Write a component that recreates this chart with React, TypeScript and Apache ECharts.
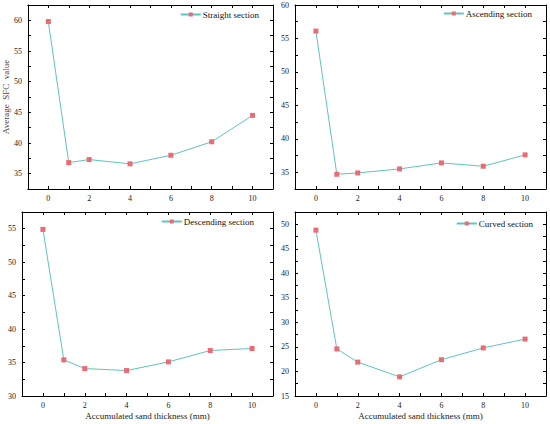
import React, { useEffect, useRef } from "react";
import * as echarts from "echarts";

const thickness = [0, 1, 2, 4, 6, 8, 10];
const straightSection = [59.8, 36.8, 37.3, 36.6, 38.0, 40.2, 44.5];
const ascendingSection = [56.1, 34.7, 34.9, 35.5, 36.4, 35.9, 37.6];
const descendingSection = [54.9, 35.4, 34.1, 33.8, 35.1, 36.8, 37.1];
const curvedSection = [48.8, 24.6, 21.9, 18.9, 22.4, 24.8, 26.6];

const seriesNames = ["Straight section", "Ascending section", "Descending section", "Curved section"];
const seriesValues = [straightSection, ascendingSection, descendingSection, curvedSection];
const yRanges = [
  [32.5, 62.5],
  [32.5, 60],
  [30, 57.5],
  [15, 52.5],
];
const xRange = [-1, 11];
const yAxisTitle = "Average  SFC  value";
const xAxisTitle = "Accumulated sand thickness (mm)";

const FONT = "Liberation Serif, Times New Roman, serif";

export default function App() {
  const ref = useRef<HTMLDivElement>(null);
  useEffect(() => {
    document.body.style.margin = "0";
    const chart = echarts.init(ref.current!, null, { renderer: "svg" });
    const grids = [
      { left: 22, top: 5, width: 251, height: 184 },
      { left: 295, top: 5, width: 251, height: 184 },
      { left: 22, top: 212, width: 251, height: 184 },
      { left: 295, top: 212, width: 251, height: 184 },
    ];
    const legendPos = [
      { right: 291, top: 10 },
      { right: 18, top: 9 },
      { right: 296, top: 217 },
      { right: 17, top: 219 },
    ];
    const xAxes: any[] = [];
    const yAxes: any[] = [];
    grids.forEach((g, i) => {
      const baseX = {
        type: "value",
        gridIndex: i,
        min: xRange[0],
        max: xRange[1],
        interval: 1,
        splitLine: { show: false },
        axisLine: { show: true, onZero: false, lineStyle: { color: "#000", width: 1 } },
        axisTick: { show: true, inside: true, length: 3, lineStyle: { color: "#000" } },
      };
      xAxes.push({
        ...baseX,
        position: "bottom",
        name: i >= 2 ? xAxisTitle : "",
        nameLocation: "middle",
        nameGap: 15,
        nameTextStyle: { fontFamily: FONT, fontSize: 9, color: "#222" },
        axisLabel: {
          show: true,
          fontFamily: FONT,
          fontSize: 8,
          color: "#222",
          margin: 5,
          formatter: (v: number) => (v >= 0 && v <= 10 && v % 2 === 0 ? String(v) : ""),
        },
      });
      xAxes.push({ ...baseX, position: "top", axisLabel: { show: false } });
      const baseY = {
        type: "value",
        gridIndex: i,
        min: yRanges[i][0],
        max: yRanges[i][1],
        interval: 2.5,
        splitLine: { show: false },
        axisLine: { show: true, onZero: false, lineStyle: { color: "#000", width: 1 } },
        axisTick: { show: true, inside: true, length: 3, lineStyle: { color: "#000" } },
      };
      yAxes.push({
        ...baseY,
        position: "left",
        name: i === 0 ? yAxisTitle : "",
        nameLocation: "middle",
        nameGap: 15,
        nameTextStyle: { fontFamily: FONT, fontSize: 9, color: "#444" },
        axisLabel: {
          show: true,
          fontFamily: FONT,
          fontSize: 8,
          color: "#222",
          margin: 6,
          formatter: (v: number) => (Math.abs(v % 5) < 1e-6 ? String(v) : ""),
        },
      });
      yAxes.push({ ...baseY, position: "right", axisLabel: { show: false } });
    });
    const series = seriesValues.map((vals, i) => ({
      name: seriesNames[i],
      type: "line",
      xAxisIndex: i * 2,
      yAxisIndex: i * 2,
      data: thickness.map((x, j) => [x, vals[j]]),
      symbol: "rect",
      symbolSize: 5,
      lineStyle: { color: "#5ec4c2", width: 1 },
      itemStyle: { color: "#ec6a74" },
    }));
    const legends = seriesNames.map((n, i) => ({
      data: [n],
      ...legendPos[i],
      padding: 0,
      itemWidth: 20,
      itemHeight: 5,
      itemGap: 3,
      textStyle: { fontFamily: FONT, fontSize: 9, color: "#111", padding: [0, 0, 0, -3] },
    }));
    chart.setOption({
      animation: false,
      grid: grids,
      xAxis: xAxes,
      yAxis: yAxes,
      legend: legends,
      series,
    });
    return () => chart.dispose();
  }, []);
  return <div ref={ref} style={{ width: 550, height: 424, background: "#fff" }} />;
}
